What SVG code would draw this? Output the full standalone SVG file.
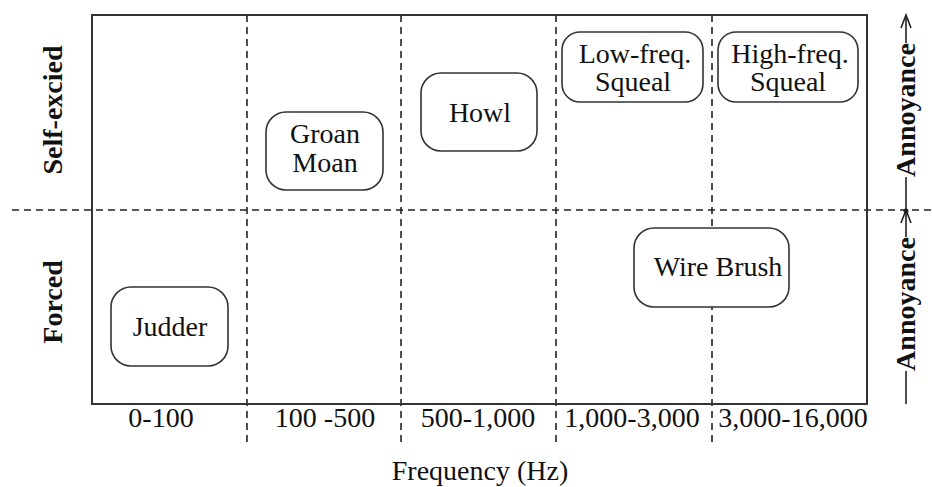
<svg xmlns="http://www.w3.org/2000/svg" width="932" height="487" viewBox="0 0 932 487">
<style>
.frame{fill:none;stroke:#333;stroke-width:2}
.dash{fill:none;stroke:#222;stroke-width:1.6;stroke-dasharray:7,5}
.box{fill:#fff;stroke:#333;stroke-width:1.6}
.t{font-family:"Liberation Serif","Times New Roman",serif;font-size:28px;fill:#111;text-anchor:middle}
.b{font-weight:bold}
.ln{fill:none;stroke:#222;stroke-width:1.6}
</style>
<rect width="932" height="487" fill="#fff"/>
<g id="grid">
<line class="dash" x1="247" y1="15" x2="247" y2="443"/>
<line class="dash" x1="401" y1="15" x2="401" y2="443"/>
<line class="dash" x1="556" y1="15" x2="556" y2="443"/>
<line class="dash" x1="712" y1="15" x2="712" y2="443"/>
<line class="dash" x1="12" y1="210" x2="932" y2="210"/>
</g>
<rect id="frame" class="frame" x="92" y="15" width="775" height="389"/>
<g id="groan"><rect class="box" x="266" y="112" width="117" height="78" rx="20"/><text class="t" x="325" y="143">Groan</text><text class="t" x="325" y="172">Moan</text></g>
<g id="howl"><rect class="box" x="421" y="73" width="116" height="78" rx="20"/><text class="t" x="480" y="122">Howl</text></g>
<g id="lowsq"><rect class="box" x="562" y="32" width="141" height="70" rx="18"/><text class="t" x="635" y="63">Low-freq.</text><text class="t" x="633" y="91">Squeal</text></g>
<g id="highsq"><rect class="box" x="718" y="32" width="140" height="70" rx="18"/><text class="t" x="790" y="63">High-freq.</text><text class="t" x="788" y="91">Squeal</text></g>
<g id="wire"><rect class="box" x="634" y="228" width="155" height="79" rx="20"/><text class="t" x="718" y="276">Wire Brush</text></g>
<g id="judder"><rect class="box" x="111" y="287" width="117" height="79" rx="20"/><text class="t" x="170" y="336">Judder</text></g>
<g id="xlabels">
<text class="t" x="161" y="427">0-100</text>
<text class="t" x="325" y="427">100 -500</text>
<text class="t" x="478" y="427">500-1,000</text>
<text class="t" x="632" y="427">1,000-3,000</text>
<text class="t" x="793" y="427">3,000-16,000</text>
<text class="t" x="480" y="480">Frequency (Hz)</text>
</g>
<g id="ylabels">
<text class="t b" transform="translate(62,110) rotate(-90)">Self-excied</text>
<text class="t b" transform="translate(62,302) rotate(-90)">Forced</text>
</g>
<g id="connectors">
<line class="ln" x1="906" y1="16" x2="906" y2="43"/>
<line class="ln" x1="906" y1="177" x2="906" y2="210"/>
<polyline class="ln" points="901,28 906,15 911,28"/>
<line class="ln" x1="906" y1="211" x2="906" y2="237"/>
<line class="ln" x1="906" y1="371" x2="906" y2="404"/>
<polyline class="ln" points="901,223 906,210 911,223"/>
<circle cx="906" cy="211" r="2.5" fill="#222"/>
<text class="t b" transform="translate(915,110) rotate(-90)">Annoyance</text>
<text class="t b" transform="translate(915,304) rotate(-90)">Annoyance</text>
</g>
</svg>
